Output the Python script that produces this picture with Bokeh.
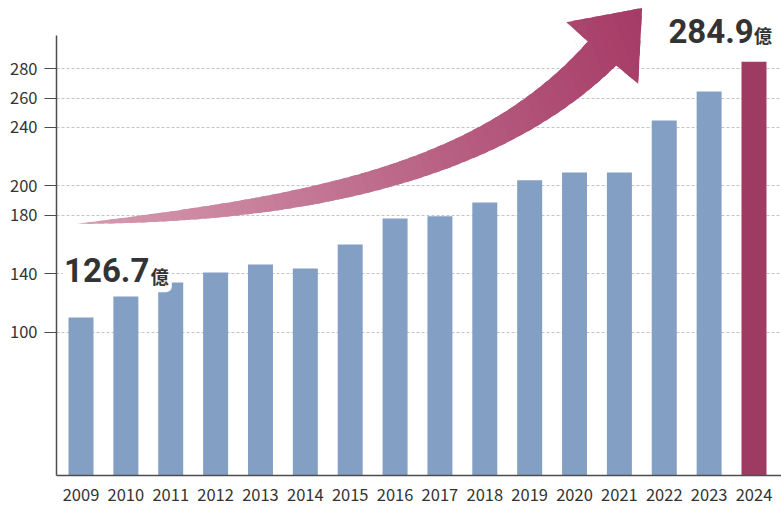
import numpy as np
from bokeh.plotting import figure
from bokeh.models import Range1d, FixedTicker, Label
from bokeh.embed import file_html
from bokeh.resources import INLINE

# ---------------- data ----------------
years = [2009, 2010, 2011, 2012, 2013, 2014, 2015, 2016,
         2017, 2018, 2019, 2020, 2021, 2022, 2023, 2024]
values = [110.0, 124.4, 133.9, 140.8, 146.2, 143.5, 159.9, 177.7,
          179.2, 188.6, 203.9, 209.1, 209.1, 244.7, 264.5, 284.9]
bar_colors = ["#849fc4"] * 15 + ["#9e3b63"]
y_ticks = [100, 140, 180, 200, 240, 260, 280]
start_label = "126.7"
end_label = "284.9"
unit_label = "億"

# decorative arrow control points (data units: year, value)
ARROW_TAIL = (2008.915, 174.1)
ARROW_UPPER = [(2013.818, 192.9), (2017.794, 211.5), (2020.295, 298.7)]
ARROW_LOWER = [(2014.487, 174.1), (2018.554, 210.5), (2020.928, 282.3)]
ARROW_HEAD = [(2019.820, 311.9), (2021.507, 321.6), (2021.418, 269.8)]
ARROW_C0 = (214, 156, 176)
ARROW_C1 = (165, 58, 102)

# ---------------- figure ----------------
W, H = 781, 508
X0, X1 = 2008.454, 2024.613
Y0, Y1 = 2.0, 326.7
BL, BB = 56, 33

p = figure(width=W, height=H, output_backend="svg", toolbar_location=None,
           x_range=Range1d(X0, X1), y_range=Range1d(Y0, Y1),
           min_border_left=BL, min_border_right=0, min_border_top=0,
           min_border_bottom=BB, tools="")
p.outline_line_color = None
p.background_fill_color = "white"
p.border_fill_color = "white"

p.vbar(x=years, top=values, bottom=0, width=0.557, color=bar_colors,
       line_color=None)

# ---------------- arrow with gradient ----------------
def bez(p0, p1, p2, p3, n=90):
    t = np.linspace(0, 1, n)[:, None]
    p0, p1, p2, p3 = map(np.asarray, (p0, p1, p2, p3))
    return ((1 - t) ** 3) * p0 + 3 * ((1 - t) ** 2) * t * p1 + \
        3 * (1 - t) * t ** 2 * p2 + t ** 3 * p3

upper = bez(ARROW_TAIL, *ARROW_UPPER)
lower = bez(ARROW_TAIL, *ARROW_LOWER)
poly = [tuple(pt) for pt in upper] + ARROW_HEAD + [tuple(pt) for pt in lower[::-1][:-1]]

KX = (W - BL) / (X1 - X0)
KY = (H - BB) / (Y1 - Y0)
tip = ARROW_HEAD[1]
dx = (tip[0] - ARROW_TAIL[0]) * KX
dy = (tip[1] - ARROW_TAIL[1]) * KY
dd = dx * dx + dy * dy

def sval(pt):
    return ((pt[0] - ARROW_TAIL[0]) * KX * dx + (pt[1] - ARROW_TAIL[1]) * KY * dy) / dd

def clip(pg, f):
    out = []
    n = len(pg)
    for i in range(n):
        cur, prev = pg[i], pg[i - 1]
        fc, fp = f(cur), f(prev)
        if fc >= 0:
            if fp < 0:
                t = fp / (fp - fc)
                out.append((prev[0] + t * (cur[0] - prev[0]), prev[1] + t * (cur[1] - prev[1])))
            out.append(cur)
        elif fp >= 0:
            t = fp / (fp - fc)
            out.append((prev[0] + t * (cur[0] - prev[0]), prev[1] + t * (cur[1] - prev[1])))
    return out

svals = [sval(pt) for pt in poly]
smin, smax = min(svals) - 1e-3, max(svals) + 1e-3
N = 60
step = (smax - smin) / N
xs, ys, cols = [], [], []
for k in range(N):
    a = smin + k * step
    b = a + step * 1.6
    piece = clip(poly, lambda q: sval(q) - a)
    piece = clip(piece, lambda q: b - sval(q))
    if len(piece) < 3:
        continue
    m = min(max((a + step / 2), 0), 1)
    c = tuple(int(round(ARROW_C0[i] + (ARROW_C1[i] - ARROW_C0[i]) * m)) for i in range(3))
    xs.append([q[0] for q in piece])
    ys.append([q[1] for q in piece])
    cols.append("#%02x%02x%02x" % c)
p.patches(xs, ys, fill_color=cols, line_color=None)

# ---------------- axes / grid ----------------
axis_color = "#4d4d4d"
text_color = "#333333"
tick_font = "Noto Sans CJK JP"

p.yaxis.ticker = FixedTicker(ticks=y_ticks)
p.yaxis.bounds = (Y0, 302.7)
p.yaxis.axis_line_color = axis_color
p.yaxis.axis_line_width = 1.5
p.yaxis.major_tick_line_color = axis_color
p.yaxis.major_tick_line_width = 1.2
p.yaxis.major_tick_out = 12
p.yaxis.major_tick_in = 0
p.yaxis.minor_tick_line_color = None
p.yaxis.minor_tick_out = 0
p.yaxis.major_label_standoff = 7
p.yaxis.major_label_text_font = tick_font
p.yaxis.major_label_text_font_size = "16.5px"
p.yaxis.major_label_text_color = text_color

p.xaxis.ticker = FixedTicker(ticks=years)
p.xaxis.axis_line_color = axis_color
p.xaxis.axis_line_width = 1.5
p.xaxis.major_tick_line_color = None
p.xaxis.major_tick_out = 0
p.xaxis.major_tick_in = 0
p.xaxis.minor_tick_line_color = None
p.xaxis.minor_tick_out = 0
p.xaxis.major_label_standoff = 13
p.xaxis.major_label_text_font = tick_font
p.xaxis.major_label_text_font_size = "16.5px"
p.xaxis.major_label_text_color = text_color

p.xgrid.visible = False
p.ygrid.ticker = FixedTicker(ticks=y_ticks)
p.ygrid.grid_line_color = "#c4c4c4"
p.ygrid.grid_line_dash = "3 2"
p.ygrid.grid_line_width = 1

# ---------------- labels ----------------
num_font = "Roboto"
p.add_layout(Label(x=2008.60, y=142.4, text=start_label, text_font=num_font,
                   text_font_style="bold", text_font_size="33px", text_color=text_color,
                   text_baseline="alphabetic", text_align="left",
                   background_fill_color="white", padding=1, border_radius=6))
p.add_layout(Label(x=2010.49, y=138.2, text=unit_label, text_font="Noto Sans CJK JP",
                   text_font_style="bold", text_font_size="18px", text_color=text_color,
                   text_baseline="alphabetic", text_align="left",
                   background_fill_color="white", padding=3, border_radius=6))
p.add_layout(Label(x=2022.093, y=305.6, text=end_label, text_font=num_font,
                   text_font_style="bold", text_font_size="33px", text_color=text_color,
                   text_baseline="alphabetic", text_align="left"))
p.add_layout(Label(x=2024.00, y=302.9, text=unit_label, text_font="Noto Sans CJK JP",
                   text_font_style="bold", text_font_size="18px", text_color=text_color,
                   text_baseline="alphabetic", text_align="left"))

open("out.html", "w").write(file_html(p, INLINE))
